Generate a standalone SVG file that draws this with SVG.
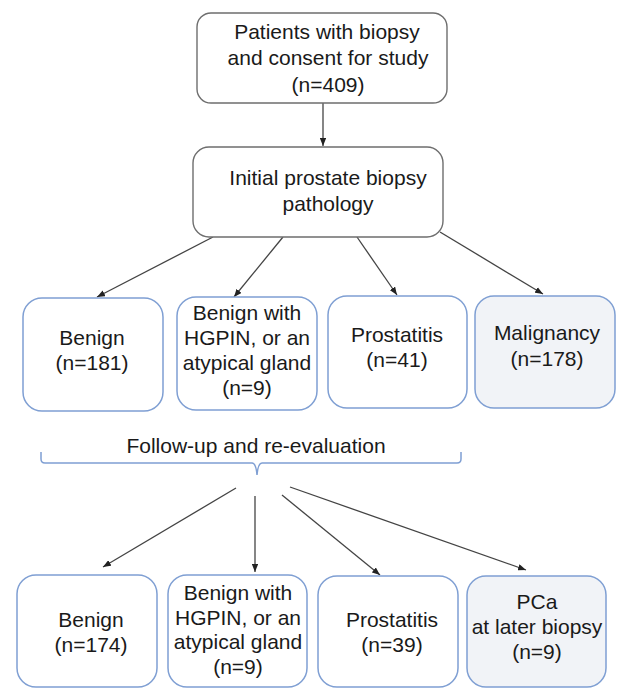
<svg xmlns="http://www.w3.org/2000/svg" width="618" height="688" viewBox="0 0 618 688">
<style>
.t{font-family:"Liberation Sans",Arial,Helvetica,sans-serif;font-size:21px;fill:#1a1a1a;text-anchor:middle}
.g{fill:#fff;stroke:#6e6e6e;stroke-width:1.4}
.b{fill:#fff;stroke:#7f9fd3;stroke-width:1.5}
.f{fill:#f1f3f7;stroke:#7f9fd3;stroke-width:1.5}
.c{stroke:#444;stroke-width:1.3;fill:none;marker-end:url(#ah)}
</style>
<defs>
<marker id="ah" viewBox="0 0 10 8" refX="10" refY="4" markerWidth="8" markerHeight="6.5" markerUnits="userSpaceOnUse" orient="auto">
<path d="M0,0 L10,4 L0,8 Z" fill="#222"/>
</marker>
</defs>
<rect width="618" height="688" fill="#fff"/>
<g id="connectors">
<line class="c" x1="323" y1="103" x2="323" y2="146"/>
<line class="c" x1="213" y1="237" x2="97" y2="297"/>
<line class="c" x1="283" y1="237" x2="234" y2="297"/>
<line class="c" x1="357" y1="237" x2="397" y2="295"/>
<line class="c" x1="440" y1="232" x2="543" y2="294"/>
<line class="c" x1="236" y1="488" x2="103" y2="567"/>
<line class="c" x1="255" y1="496" x2="255" y2="572"/>
<line class="c" x1="282" y1="495" x2="380" y2="575"/>
<line class="c" x1="290" y1="487" x2="526" y2="570"/>
</g>
<g id="patients">
<rect class="g" x="197" y="13" width="250" height="90" rx="14"/>
<text class="t" x="327" y="39">Patients with biopsy</text>
<text class="t" x="328" y="65">and consent for study</text>
<text class="t" x="328" y="92">(n=409)</text>
</g>
<g id="initial">
<rect class="g" x="193" y="147" width="250" height="90" rx="16"/>
<text class="t" x="328" y="185">Initial prostate biopsy</text>
<text class="t" x="328" y="211">pathology</text>
</g>
<g id="benign1">
<rect class="b" x="23" y="298" width="140" height="113" rx="19"/>
<text class="t" x="92" y="345">Benign</text>
<text class="t" x="92" y="370">(n=181)</text>
</g>
<g id="hgpin1">
<rect class="b" x="177" y="297" width="140" height="113" rx="19"/>
<text class="t" x="247" y="320">Benign with</text>
<text class="t" x="247" y="345">HGPIN, or an</text>
<text class="t" x="247" y="370">atypical gland</text>
<text class="t" x="247" y="395">(n=9)</text>
</g>
<g id="prostatitis1">
<rect class="b" x="328" y="296" width="139" height="112" rx="19"/>
<text class="t" x="397" y="342">Prostatitis</text>
<text class="t" x="397" y="367">(n=41)</text>
</g>
<g id="malignancy">
<rect class="f" x="475" y="296" width="140" height="112" rx="19"/>
<text class="t" x="547" y="340">Malignancy</text>
<text class="t" x="547" y="366">(n=178)</text>
</g>
<g id="followup">
<path d="M41,452 V459 Q41,463 45,463 H252 Q256,463 257,475 Q258,463 262,463 H457 Q461,463 461,459 V452" fill="none" stroke="#7f9fd3" stroke-width="1.5"/>
<text class="t" x="256" y="453">Follow-up and re-evaluation</text>
</g>
<g id="benign2">
<rect class="b" x="17" y="575" width="140" height="112" rx="19"/>
<text class="t" x="91" y="627">Benign</text>
<text class="t" x="91" y="652">(n=174)</text>
</g>
<g id="hgpin2">
<rect class="b" x="168" y="575" width="139" height="112" rx="19"/>
<text class="t" x="238" y="600">Benign with</text>
<text class="t" x="238" y="625">HGPIN, or an</text>
<text class="t" x="238" y="649">atypical gland</text>
<text class="t" x="238" y="674">(n=9)</text>
</g>
<g id="prostatitis2">
<rect class="b" x="318" y="576" width="140" height="111" rx="19"/>
<text class="t" x="392" y="627">Prostatitis</text>
<text class="t" x="392" y="652">(n=39)</text>
</g>
<g id="pca">
<rect class="f" x="467" y="576" width="139" height="111" rx="19"/>
<text class="t" x="537" y="609">PCa</text>
<text class="t" x="537" y="634">at later biopsy</text>
<text class="t" x="537" y="659">(n=9)</text>
</g>
</svg>
